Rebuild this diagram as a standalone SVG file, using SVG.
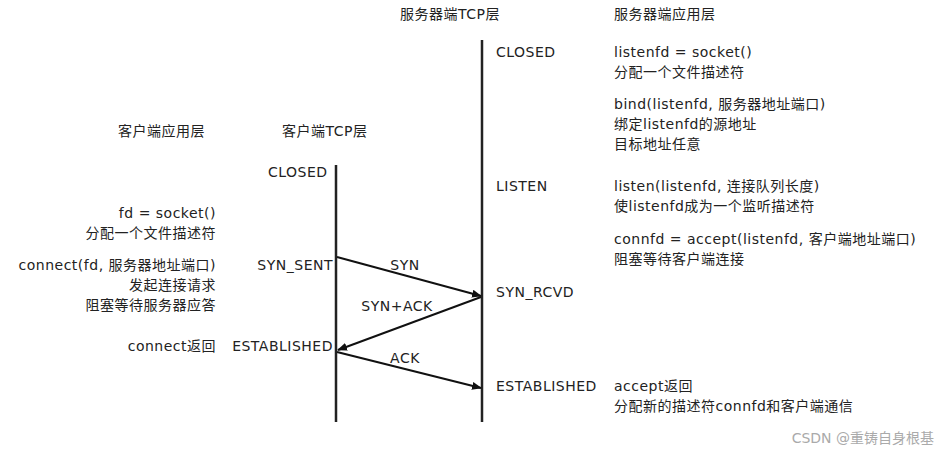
<svg xmlns="http://www.w3.org/2000/svg" width="940" height="452" viewBox="0 0 940 452">
<style>
text{font-family:"DejaVu Sans","Noto Sans CJK SC",sans-serif;font-size:14px;letter-spacing:0.5px;fill:#222}
.r{text-anchor:end}
.ln{stroke:#222;stroke-width:2.5;fill:none}
.ar{stroke:#111;stroke-width:2;fill:none;marker-end:url(#ah)}
</style>
<defs><marker id="ah" markerWidth="10" markerHeight="8" refX="9" refY="4" orient="auto" markerUnits="userSpaceOnUse"><path d="M0,0L10,4L0,8z" fill="#111"/></marker></defs>
<rect width="940" height="452" fill="#fff"/>
<g id="lifelines">
<line class="ln" x1="336" y1="165" x2="336" y2="422"/>
<line class="ln" x1="482" y1="40" x2="482" y2="422"/>
</g>
<g id="connectors">
<line class="ar" x1="337" y1="257" x2="481" y2="296"/>
<line class="ar" x1="481" y1="297" x2="338" y2="350"/>
<line class="ar" x1="337" y1="352" x2="481" y2="388"/>
<text x="405" y="270" text-anchor="middle">SYN</text>
<text x="397" y="311" text-anchor="middle">SYN+ACK</text>
<text x="405" y="363" text-anchor="middle">ACK</text>
</g>
<g id="headers">
<text x="400" y="19">服务器端TCP层</text>
<text x="614" y="19">服务器端应用层</text>
<text x="118" y="136">客户端应用层</text>
<text x="282" y="136">客户端TCP层</text>
</g>
<g id="client-tcp">
<text x="268" y="177">CLOSED</text>
<text x="333" y="270" class="r">SYN_SENT</text>
<text x="333" y="351" class="r">ESTABLISHED</text>
</g>
<g id="client-app">
<text x="216" y="218" class="r">fd = socket()</text>
<text x="216" y="238" class="r">分配一个文件描述符</text>
<text x="216" y="270" class="r">connect(fd, 服务器地址端口)</text>
<text x="216" y="290" class="r">发起连接请求</text>
<text x="216" y="310" class="r">阻塞等待服务器应答</text>
<text x="216" y="351" class="r">connect返回</text>
</g>
<g id="server-tcp">
<text x="496" y="57">CLOSED</text>
<text x="496" y="191">LISTEN</text>
<text x="496" y="297">SYN_RCVD</text>
<text x="496" y="391">ESTABLISHED</text>
</g>
<g id="server-app">
<text x="614" y="57">listenfd = socket()</text>
<text x="614" y="77">分配一个文件描述符</text>
<text x="614" y="109">bind(listenfd, 服务器地址端口)</text>
<text x="614" y="129">绑定listenfd的源地址</text>
<text x="614" y="149">目标地址任意</text>
<text x="614" y="191">listen(listenfd, 连接队列长度)</text>
<text x="614" y="211">使listenfd成为一个监听描述符</text>
<text x="614" y="244">connfd = accept(listenfd, 客户端地址端口)</text>
<text x="614" y="264">阻塞等待客户端连接</text>
<text x="614" y="391">accept返回</text>
<text x="614" y="411">分配新的描述符connfd和客户端通信</text>
</g>
<text x="934" y="443" class="r" style="fill:#aaa;font-size:14px;letter-spacing:0">CSDN @重铸自身根基</text>
</svg>
